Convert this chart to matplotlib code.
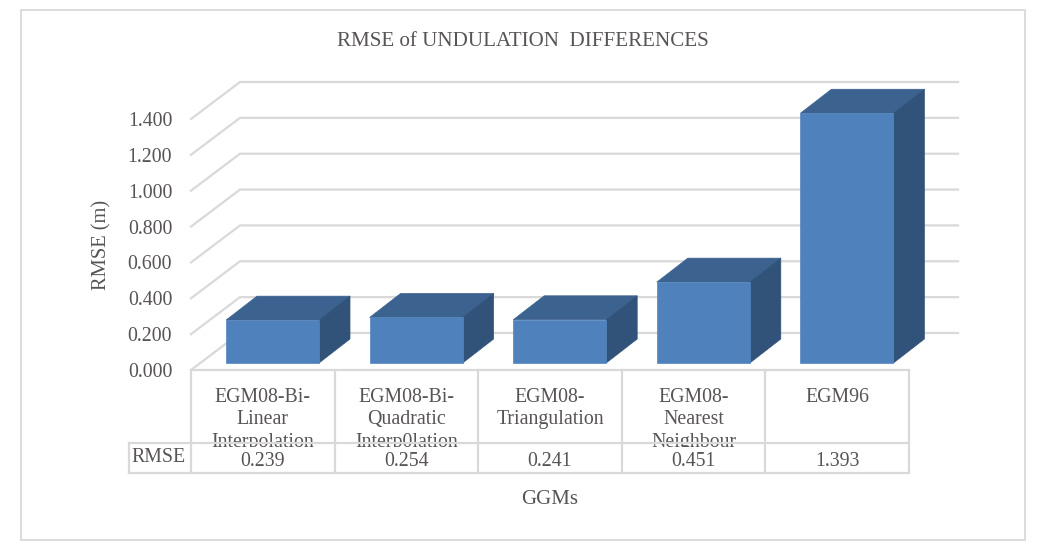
import matplotlib
matplotlib.use("Agg")
import matplotlib.pyplot as plt
from matplotlib.patches import Polygon, Rectangle

categories = ["EGM08-Bi-\nLinear\nInterpolation", "EGM08-Bi-\nQuadratic\nInterp0lation",
              "EGM08-\nTriangulation", "EGM08-\nNearest\nNeighbour", "EGM96"]
rmse = [0.239, 0.254, 0.241, 0.451, 1.393]
ticks = [0.0, 0.2, 0.4, 0.6, 0.8, 1.0, 1.2, 1.4]

W, H = 1038, 553
GRID = "#d9d9d9"
TEXT = "#595454"
FRONT = "#4f81bd"
TOP = "#3c6390"
SIDE = "#315279"

plt.rcParams["font.family"] = ["Liberation Serif", "DejaVu Serif"]

fig = plt.figure(figsize=(W / 100, H / 100), dpi=100)

# overlay in pixels, for the frame and loose titles
bg = fig.add_axes([0, 0, 1, 1])
bg.set_xlim(0, W)
bg.set_ylim(H, 0)
bg.axis("off")
bg.add_patch(Rectangle((21, 10), 1004, 530, fill=False, ec=GRID, lw=1.3))

# front plane of the 3d box: x is category slots, y is RMSE
left, right, base, top = 191, 909, 370, 119
ax = fig.add_axes([left / W, 1 - base / H, (right - left) / W, (base - top) / H])
ax.patch.set_visible(False)
ax.set_xlim(0, len(rmse))
ax.set_ylim(0, 1.4)
for s in ax.spines.values():
    s.set_visible(False)
ax.set_xticks([])
ax.set_yticks(ticks)
ax.set_yticklabels([f"{t:.3f}" for t in ticks], fontsize=14.3, color=TEXT)
ax.tick_params(axis="y", length=0, pad=13.5)

px = (right - left) / len(rmse)
py = (base - top) / 1.4
depth_x = 49 / px
depth_y = 37 / py

# gridlines run along the floor side and then the back wall
for t in ticks:
    ax.plot([0, depth_x, len(rmse) + depth_x], [t, t + depth_y, t + depth_y],
            color=GRID, lw=1.6, clip_on=False, zorder=1)

# bars
bar_w = 93 / px
bar_dx = 31 / px
bar_dy = 24 / py
floor = 7 / py
for i, v in enumerate(rmse):
    x0 = i + 35 / px
    x1 = x0 + bar_w
    y0 = floor
    y1 = floor + v
    ax.add_patch(Polygon([(x0, y1), (x1, y1), (x1 + bar_dx, y1 + bar_dy), (x0 + bar_dx, y1 + bar_dy)],
                         fc=TOP, ec=TOP, lw=0.5, clip_on=False, zorder=3))
    ax.add_patch(Polygon([(x1, y0), (x1 + bar_dx, y0 + bar_dy), (x1 + bar_dx, y1 + bar_dy), (x1, y1)],
                         fc=SIDE, ec=SIDE, lw=0.5, clip_on=False, zorder=3))
    ax.add_patch(Rectangle((x0, y0), bar_w, v, fc=FRONT, ec="#5585bf", lw=0.5, clip_on=False, zorder=4))

# data table under the plot
row_top = -73 / py
row_bottom = -103 / py
row_left = -62 / px
ax.plot([0, len(rmse)], [0, 0], color=GRID, lw=1.6, clip_on=False, zorder=6)
ax.plot([row_left, len(rmse)], [row_top, row_top], color=GRID, lw=1.6, clip_on=False, zorder=6)
ax.plot([row_left, len(rmse)], [row_bottom, row_bottom], color=GRID, lw=1.6, clip_on=False, zorder=6)
ax.plot([row_left, row_left], [row_top, row_bottom], color=GRID, lw=1.6, clip_on=False, zorder=6)
for i in range(len(rmse) + 1):
    ax.plot([i, i], [0, row_bottom], color=GRID, lw=1.6, clip_on=False, zorder=6)

# long labels get cut off at the row below
clip_box = Rectangle((0, -76.5 / py), len(rmse), 76.5 / py, transform=ax.transData)
for i, label in enumerate(categories):
    t = ax.text(i + 0.5, -17.5 / py, label, ha="center", va="top", fontsize=14.3, color=TEXT,
                linespacing=1.28, zorder=5)
    t.set_clip_path(clip_box)
    t.set_clip_on(True)
    ax.text(i + 0.5, -92 / py, f"{rmse[i]:.3f}", ha="center", va="center", fontsize=14.3,
            color=TEXT, zorder=5)
ax.text(row_left + 2.5 / px, -88 / py, "RMSE", ha="left", va="center", fontsize=14.3, color=TEXT, zorder=5)

bg.text(522.5, 41, "RMSE of UNDULATION  DIFFERENCES", ha="center", va="center", fontsize=15.1, color=TEXT)
bg.text(550, 500, "GGMs", ha="center", va="center", fontsize=15, color=TEXT)
bg.text(102, 245, "RMSE (m)", ha="center", va="center", rotation=90, fontsize=14.8, color=TEXT)

fig.savefig("out.png", dpi=100, facecolor="white")
